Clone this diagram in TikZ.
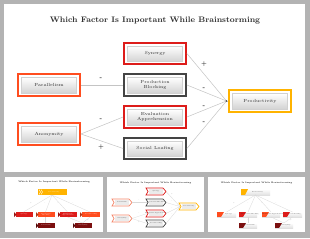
\documentclass[tikz,border=0pt]{standalone}
\usetikzlibrary{shadows}
\definecolor{bg}{HTML}{B3B3B3}
\definecolor{cred}{HTML}{DD1C1A}
\definecolor{corg}{HTML}{FF4D1F}
\definecolor{cdark}{HTML}{444444}
\definecolor{cgold}{HTML}{FFB300}
\definecolor{cline}{HTML}{C4C4C4}
\definecolor{ctext}{HTML}{2E2E2E}
\definecolor{cdred}{HTML}{7B0F0F}
\definecolor{csalm}{HTML}{F4876B}
\tikzset{
  fr/.style={draw=#1, line width=1.8pt, minimum width=62pt, minimum height=21.5pt, inner sep=0pt, fill=white},
  inbox/.style={draw=black!18, line width=0.4pt, top color=white, bottom color=black!17,
     minimum width=55pt, minimum height=15.5pt, inner sep=0.5pt, align=center,
     font=\fontsize{4.4}{5.2}\selectfont, text=ctext,
     drop shadow={shadow xshift=0.6pt, shadow yshift=-0.6pt, opacity=0.35}},
  conn/.style={draw=cline, line width=0.5pt},
  sgn/.style={font=\fontsize{5.5}{6}\selectfont\bfseries, text=ctext, inner sep=0pt},
  ttl/.style={font=\fontsize{8}{10}\selectfont\bfseries, text=ctext, inner sep=0pt},
  tttl/.style={font=\fontsize{2.2}{2.6}\selectfont\bfseries, text=ctext, inner sep=0pt},
  tlab/.style={font=\fontsize{1.4}{1.6}\selectfont, text=white, inner sep=0pt, align=center},
  tlabd/.style={font=\fontsize{1.4}{1.6}\selectfont, text=ctext, inner sep=0pt, align=center},
  tconn/.style={draw=black!15, line width=0.3pt},
  tsgn/.style={font=\fontsize{1.6}{1.8}\selectfont, text=black!50, inner sep=0pt},
}
\begin{document}
\begin{tikzpicture}[x=1pt,y=-1pt]
\useasboundingbox (0,0) rectangle (310,238);
\fill[bg] (0,0) rectangle (310,238);
\fill[white] (4,4) rectangle (305,172);
\fill[white] (5,177) rectangle (103,232);
\fill[white] (107,177) rectangle (204,232);
\fill[white] (208,177) rectangle (305,232);

% ---------- main slide ----------
\node[ttl] (title) at (155,21) {Which Factor Is Important While Brainstorming};

\node[fr=cred]  (synF) at (155,53.5) {};
\node[inbox]    (syn)  at (synF) {Synergy};
\node[fr=cdark] (pbF)  at (155,85) {};
\node[inbox]    (pb)   at (pbF) {Production\\Blocking};
\node[fr=cred]  (evF)  at (155,117) {};
\node[inbox]    (ev)   at (evF) {Evaluation\\Apprehension};
\node[fr=cdark] (slF)  at (155,148.5) {};
\node[inbox]    (sl)   at (slF) {Social Loafing};
\node[fr=corg]  (parF) at (49,85) {};
\node[inbox]    (par)  at (parF) {Parallelism};
\node[fr=corg]  (anoF) at (49,134) {};
\node[inbox]    (ano)  at (anoF) {Anonymity};
\node[fr=cgold] (proF) at (260,101) {};
\node[inbox]    (pro)  at (proF) {Productivity};

\coordinate (cv) at (226.5,101);
\draw[conn] (parF.east) -- (pbF.west);
\draw[conn] (anoF.east) -- (evF.west);
\draw[conn] (anoF.east) -- (slF.west);
\draw[conn] (synF.east) -- (cv);
\draw[conn] (pbF.east) -- (cv);
\draw[conn] (evF.east) -- (cv);
\draw[conn] (slF.east) -- (cv);
\draw[conn] (cv) -- (proF.west);
\fill[cdark] (cv) circle (0.8pt);

\node[sgn] at (101,79) {-};
\node[sgn] at (101,120) {-};
\node[sgn] at (101,147) {+};
\node[sgn] at (204,64) {+};
\node[sgn] at (204,88.5) {-};
\node[sgn] at (204,106.5) {-};
\node[sgn] at (204,123) {-};

% ---------- thumbnail 1 ----------
\node[tttl] (t1title) at (54,182) {Which Factor Is Important While Brainstorming};
\fill[cgold] (38,189) rectangle (67,195);
\draw[white, line width=0.4pt] (39,189.5) -- (40.5,192) -- (39,194.5) (41,189.5) -- (42.5,192) -- (41,194.5);
\node[tlab] (t1p) at (54,192) {Productivity};
\coordinate (t1top) at (52,195);
\foreach \xa/\xb/\c/\nm [count=\i] in {14/33/cred/t1a, 36/55/corg/t1b, 58/77/cred/t1c, 80/100/corg/t1d}{
  \fill[\c] (\xa+2,212) rectangle (\xb,217);
  \fill[\c!70!black] (\xa,212) -- (\xa+2.5,214.5) -- (\xa,217) -- cycle;
  \coordinate (\nm) at ({(\xa+\xb)/2},212);
  \coordinate (\nm b) at ({(\xa+\xb)/2},217);
}
\node[tlab] at (24,214.5) {Synergy};
\node[tlab] at (46,214.5) {Production\\Blocking};
\node[tlab] at (68,214.5) {Evaluation\\Apprehension};
\node[tlab] at (91,214.5) {Social Loafing};
\foreach \nm in {t1a,t1b,t1c,t1d} \draw[tconn] (t1top) -- (\nm);
\foreach \xa/\xb/\nm in {36/55/t1e, 73/92/t1f}{
  \fill[cdred] (\xa+2,223) rectangle (\xb,228);
  \fill[cdred!70!black] (\xa,223) -- (\xa+2.5,225.5) -- (\xa,228) -- cycle;
  \coordinate (\nm) at ({(\xa+\xb)/2},223);
}
\node[tlab] at (46,225.5) {Parallelism};
\node[tlab] at (83,225.5) {Anonymity};
\draw[tconn] (t1bb) -- (t1e);
\draw[tconn] (t1cb) -- (t1f);
\draw[tconn] (t1db) -- (t1f);
\node[tsgn] at (31,203) {+}; \node[tsgn] at (45,203) {-};
\node[tsgn] at (58,203) {-}; \node[tsgn] at (73,203) {-};
\node[tsgn] at (44,220) {-}; \node[tsgn] at (73,220) {-}; \node[tsgn] at (88,220) {+};

% ---------- thumbnail 2 ----------
\node[tttl] (t2title) at (155.5,183) {Which Factor Is Important While Brainstorming};
\foreach \xa/\xb/\ya/\yb/\c/\nm/\lab in {
   112/132/199/206/csalm/t2p/Parallelism, 112/132/215/222/csalm/t2a/Anonymity,
   146/166/188/195/cred/t2s/Synergy, 146/166/199/206/cdark/t2b/Production Blocking,
   146/166/210/217/cred/t2e/Evaluation Apprehension, 146/166/220/227/cdark/t2l/Social Loafing,
   179/199/203/210/cgold/t2r/Productivity}{
  \draw[\c, line width=0.7pt, fill=white] (\xa,\ya) -- (\xb-3,\ya) -- (\xb,{(\ya+\yb)/2}) -- (\xb-3,\yb) -- (\xa,\yb) -- (\xa+2,{(\ya+\yb)/2}) -- cycle;
  \fill[black!8] (\xa+2.5,\ya+1.3) rectangle (\xb-3.5,\yb-1.3);
  \coordinate (\nm W) at (\xa+1,{(\ya+\yb)/2});
  \coordinate (\nm E) at (\xb,{(\ya+\yb)/2});
  \node[tlabd] at ({(\xa+\xb)/2},{(\ya+\yb)/2}) {\lab};
}
\draw[tconn] (t2pE) -- (t2bW);
\draw[tconn] (t2aE) -- (t2eW);
\draw[tconn] (t2aE) -- (t2lW);
\foreach \nm in {t2s,t2b,t2e,t2l} \draw[tconn] (\nm E) -- (t2rW);
\node[tsgn] at (139,200) {-}; \node[tsgn] at (139,213) {-}; \node[tsgn] at (139,222) {+};
\node[tsgn] at (172,194) {+}; \node[tsgn] at (172,201) {-}; \node[tsgn] at (172,208) {-}; \node[tsgn] at (172,214) {-};

% ---------- thumbnail 3 ----------
\node[tttl] (t3title) at (256.5,183) {Which Factor Is Important While Brainstorming};
\foreach \xa/\xb/\ya/\yb/\c/\nm/\lab in {
   241/270/189/195/cgold/t3p/Productivity,
   217/236/212/217/corg/t3a/Synergy, 239/257/212/217/cred/t3b/Production Blocking,
   262/280/212/217/corg/t3c/Evaluation Apprehension, 283/302/212/217/cred/t3d/Social Loafing,
   239/257/223/228/cdred/t3e/Parallelism, 275/293/223/228/cdred/t3f/Anonymity}{
  \fill[black!25] (\xa+0.4,\ya+0.4) rectangle (\xb+0.4,\yb+0.4);
  \shade[top color=white, bottom color=black!12] (\xa,\ya) rectangle (\xb,\yb);
  \fill[\c] (\xa,\ya) rectangle (\xa+4,\yb);
  \fill[\c] (\xa+4,\ya) -- (\xa+7,\ya) -- (\xa+4,\yb) -- cycle;
  \coordinate (\nm T) at ({(\xa+\xb)/2},\ya);
  \coordinate (\nm B) at ({(\xa+\xb)/2},\yb);
  \node[tlabd] at ({(\xa+\xb)/2+2},{(\ya+\yb)/2}) {\lab};
}
\foreach \nm in {t3a,t3b,t3c,t3d} \draw[tconn] (t3pB) -- (\nm T);
\draw[tconn] (t3bB) -- (t3eT);
\draw[tconn] (t3cB) -- (t3fT);
\draw[tconn] (t3dB) -- (t3fT);
\node[tsgn] at (234,203) {+}; \node[tsgn] at (248,203) {-};
\node[tsgn] at (262,203) {-}; \node[tsgn] at (276,203) {-};
\node[tsgn] at (248,220) {-}; \node[tsgn] at (276,220) {-}; \node[tsgn] at (291,220) {+};
\end{tikzpicture}
\end{document}
